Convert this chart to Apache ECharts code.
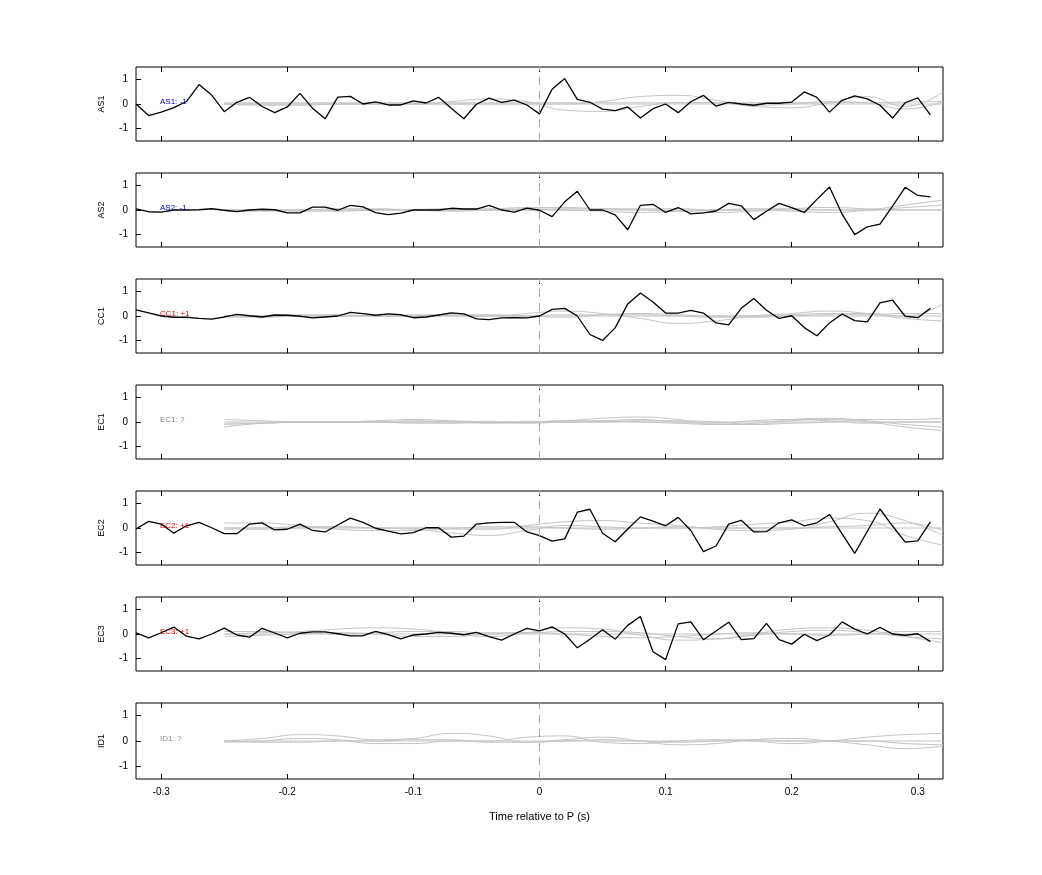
<!DOCTYPE html>
<html><head><meta charset="utf-8">
<script src="https://cdn.jsdelivr.net/npm/echarts@6/dist/echarts.min.js"></script>
<style>html,body{margin:0;background:#fff}#c{width:1042px;height:875px}</style>
</head><body><div id="c"></div>
<script>
const stations = ['AS1','AS2','CC1','EC1','EC2','EC3','ID1'];
const polarityLabels = ['AS1: -1','AS2: -1','CC1: +1','EC1: ?','EC2: +1','EC3: +1','ID1: ?'];
const labelColors = ['#0000cc','#0000cc','#dd0000','#888888','#dd0000','#dd0000','#888888'];
const xTicks = [-0.3,-0.2,-0.1,0,0.1,0.2,0.3];
// black trace times: -0.32 .. 0.31 step 0.01
const blackTimes = [-0.32,-0.31,-0.30,-0.29,-0.28,-0.27,-0.26,-0.25,-0.24,-0.23,-0.22,-0.21,-0.20,-0.19,-0.18,-0.17,-0.16,-0.15,-0.14,-0.13,-0.12,-0.11,-0.10,-0.09,-0.08,-0.07,-0.06,-0.05,-0.04,-0.03,-0.02,-0.01,0,0.01,0.02,0.03,0.04,0.05,0.06,0.07,0.08,0.09,0.10,0.11,0.12,0.13,0.14,0.15,0.16,0.17,0.18,0.19,0.20,0.21,0.22,0.23,0.24,0.25,0.26,0.27,0.28,0.29,0.30,0.31];
const AS1 = [0,-0.47,-0.33,-0.15,0.1,0.79,0.36,-0.31,0.07,0.27,-0.1,-0.35,-0.12,0.43,-0.17,-0.6,0.28,0.31,0,0.09,-0.04,-0.04,0.13,0.04,0.27,-0.17,-0.6,-0.01,0.24,0.07,0.16,-0.04,-0.4,0.6,1.03,0.19,0.07,-0.21,-0.27,-0.12,-0.57,-0.19,0,-0.35,0.09,0.35,-0.09,0.07,0,-0.05,0.03,0.03,0.08,0.49,0.27,-0.33,0.15,0.33,0.21,-0.05,-0.57,0.05,0.25,-0.44];
const AS2 = [0.05,-0.07,-0.09,0,0,0.01,0.05,-0.01,-0.07,0,0.03,0.01,-0.12,-0.12,0.12,0.12,-0.01,0.19,0.13,-0.11,-0.19,-0.13,0,0,0,0.07,0.04,0.04,0.19,0,-0.09,0.08,-0.01,-0.27,0.33,0.76,0,0,-0.2,-0.8,0.19,0.23,-0.1,0.1,-0.16,-0.12,-0.04,0.27,0.17,-0.39,-0.05,0.27,0.1,-0.1,0.43,0.93,-0.17,-1.0,-0.68,-0.57,0.16,0.92,0.59,0.53];
const CC1 = [0.25,0.13,0,-0.05,-0.05,-0.1,-0.13,-0.04,0.07,0.01,-0.04,0.04,0.03,-0.01,-0.08,-0.04,0,0.15,0.1,0.03,0.09,0.05,-0.07,-0.04,0.04,0.13,0.09,-0.12,-0.15,-0.08,-0.07,-0.08,0,0.27,0.31,0,-0.75,-0.99,-0.48,0.49,0.93,0.57,0.12,0.12,0.23,0.12,-0.28,-0.36,0.31,0.71,0.23,-0.1,0.01,-0.47,-0.8,-0.28,0.08,-0.19,-0.24,0.53,0.64,-0.01,-0.07,0.31];
const EC2 = [-0.04,0.27,0.16,-0.21,0.09,0.23,0.01,-0.23,-0.23,0.16,0.21,-0.08,-0.05,0.16,-0.1,-0.16,0.12,0.4,0.23,-0.01,-0.13,-0.24,-0.19,0.01,0.01,-0.37,-0.33,0.16,0.21,0.23,0.23,-0.16,-0.31,-0.53,-0.44,0.64,0.76,-0.21,-0.56,-0.04,0.45,0.28,0.09,0.43,-0.1,-0.96,-0.73,0.16,0.31,-0.16,-0.15,0.21,0.33,0.09,0.21,0.55,-0.24,-1.03,-0.13,0.77,0.08,-0.57,-0.52,0.25];
const EC3 = [0.05,-0.16,0.05,0.28,-0.09,-0.2,0,0.24,-0.04,-0.13,0.23,0.04,-0.16,0.03,0.09,0.09,0.01,-0.08,-0.07,0.11,-0.03,-0.2,-0.04,0,0.07,0.03,-0.03,0.07,-0.11,-0.25,0,0.23,0.13,0.29,0,-0.56,-0.21,0.17,-0.21,0.35,0.71,-0.72,-1.04,0.41,0.49,-0.23,0.12,0.48,-0.23,-0.19,0.43,-0.23,-0.41,-0.01,-0.27,-0.04,0.49,0.2,0,0.27,0,-0.05,0.01,-0.31];
const blackSeries = [AS1, AS2, CC1, null, EC2, EC3, null];
// gray traces: times -0.25 .. 0.32 step 0.03
const grayTimes = [-0.25,-0.22,-0.19,-0.16,-0.13,-0.10,-0.07,-0.04,-0.01,0.02,0.05,0.08,0.11,0.14,0.17,0.20,0.23,0.26,0.29,0.32];
const grays = [
 [[0.05,0.05,0.05,0.05,0.05,0.05,0.05,0.05,0.05,0.05,0.05,0.05,0.05,0.05,0.05,0.05,0.05,0.05,0.08,0.1],
  [0,-0.05,-0.05,0,0,0,0.1,0.2,0.1,-0.25,-0.3,-0.1,0.05,0.05,-0.05,0,0.1,0.05,-0.2,0.1],
  [0,0,0,0,0,0,0,0,0,0,0.1,0.3,0.35,0.15,-0.1,-0.15,0.05,0.3,-0.1,0.5],
  [0,0,0,0,0,0,0,0,0,0,0,0,0,0,0,0,0,0,0,0]],
 [[-0.05,-0.05,0,0,0,0.02,0.05,0.05,0.1,0.1,0.05,0,-0.05,-0.1,-0.05,0.05,0.1,0.05,0,0],
  [0,0,-0.05,-0.05,0,0,0,0,0,0.05,0.05,0.05,0.05,0,0,-0.05,-0.1,0,0.2,0.4],
  [0,0,0,0.05,0.05,0,-0.05,0,0.05,0,-0.05,-0.1,-0.05,0,0.05,0.05,0,0,0.1,0.2],
  [0,0,0,0,0,0,0,0,0,0,0,0,0,0,0,0,0,0,0,0]],
 [[0,0,0,0,0,0,0,0,0.1,0.2,0.1,-0.1,-0.3,-0.2,0,0.1,0.2,0.1,-0.1,-0.2],
  [0,0,0.05,0.05,0,0,0.05,0.05,0,-0.05,0.05,0.1,0.05,0,0,0.05,0.1,0.1,0,0.5],
  [-0.05,-0.05,0,0,0,0.05,0.05,0,0,0.05,0.05,0.05,0,-0.05,-0.05,0,0.05,0.05,0.1,0.1],
  [0,0,0,0,0,0,0,0,0,0,0,0,0,0,0,0,0,0,0,0]],
 [[-0.2,-0.05,0,0,0,0.05,0,-0.05,0,0.05,0.15,0.2,0.1,-0.1,-0.1,0.05,0.1,0,-0.2,-0.35],
  [0.1,0.05,0,0,0.05,0.1,0.05,0,-0.05,0,0.05,0.1,0,-0.05,0.05,0.1,0.05,-0.05,0,0],
  [-0.05,-0.05,0,0,0,0,0,0,0,0,0,0.05,0.05,0,-0.1,-0.05,0,0.1,0.1,0.15],
  [-0.1,-0.05,0,0,0,-0.05,-0.05,0,0,0.05,0.05,0,-0.05,-0.1,-0.05,0.1,0.15,0.05,-0.1,-0.2],
  [0,0,0,0,0,0,0,0,0,0,0,0,0,0,0,0,0,0,0,0]],
 [[0.2,0.2,0.1,-0.05,-0.1,-0.1,-0.05,-0.05,0.1,0.25,0.3,0.2,0.1,-0.05,-0.1,-0.05,0.25,0.6,0.3,-0.3],
  [-0.05,-0.05,0,0.05,0,-0.05,-0.2,-0.3,-0.1,0.1,0.05,0,0,0.05,0.15,0.25,0.4,0.3,-0.3,-0.7],
  [0,0,0.05,0.05,0,0,0,0.05,0.05,0,-0.05,0,0.05,0,0,0,0.05,0.1,0.2,-0.1],
  [0,0,0,0,0,0,0,0,0,0,0,0,0,0,0,0,0,0,0,0]],
 [[0.1,0.1,0.05,0,0.05,0.1,0.1,0.05,0.05,0.1,0.1,0.05,-0.1,-0.2,-0.05,0.1,0.15,0.05,-0.1,-0.2],
  [0,0.05,0.1,0.2,0.25,0.2,0.05,-0.1,0.05,0.25,0.2,-0.05,-0.25,-0.2,0,0.2,0.25,0.15,-0.1,-0.35],
  [-0.1,-0.05,0,0.05,0,-0.1,-0.1,0,0.05,0,-0.1,-0.15,-0.1,0,0.05,0,-0.05,0,0.1,0.1],
  [0,0,0,0,0,0,0,0,0,0,0,0,0,0,0,0,0,0,0,0]],
 [[0,0.1,0.25,0.2,0.05,0.1,0.3,0.2,-0.05,0.05,0.15,0,-0.15,-0.1,0.05,0.1,0,-0.15,-0.3,-0.2],
  [-0.05,0,0.1,0.05,-0.1,-0.1,0,0,0.15,0.2,-0.05,-0.1,0,0.05,0,-0.1,0,0.15,0.25,0.3],
  [0,-0.05,-0.05,0,0,0.05,0.05,-0.05,-0.05,0,0.05,0,-0.05,0,0.05,0,0,0,-0.1,-0.15],
  [0,0,0,0,0,0,0,0,0,0,0,0,0,0,0,0,0,0,0,0]]
];

const chart = echarts.init(document.getElementById('c'));
const grid=[], xAxis=[], yAxis=[], series=[], graphic=[];
const font = 'Liberation Sans, Arial, sans-serif';
stations.forEach((st,i)=>{
  const top = 67 + 106*i;
  const h = i===6 ? 76 : 74;
  grid.push({left:136, width:807, top:top, height:h, show:true, borderColor:'#000', borderWidth:1, backgroundColor:'#fff'});
  const last = i===6;
  const xBase = {gridIndex:i, type:'value', min:-0.32, max:0.32,
    axisLine:{show:false, onZero:false}, splitLine:{show:false},
    axisTick:{inside:true, length:5, lineStyle:{color:'#000'}, customValues:xTicks}};
  xAxis.push(Object.assign({}, xBase, {position:'bottom',
    axisLabel:{show:last, customValues:xTicks, color:'#000', fontSize:10, fontFamily:font, margin:8, formatter:v=>String(+v.toFixed(1))},
    name: last ? 'Time relative to P (s)' : '', nameLocation:'middle', nameGap:32,
    nameTextStyle:{color:'#000', fontSize:11, fontFamily:font}}));
  xAxis.push(Object.assign({}, xBase, {position:'top', axisLabel:{show:false}}));
  yAxis.push({gridIndex:i, type:'value', min:-1.5, max:1.5, position:'left',
    axisLine:{show:false, onZero:false}, splitLine:{show:false},
    axisTick:{inside:true, length:5, lineStyle:{color:'#000'}, customValues:[-1,0,1]},
    axisLabel:{customValues:[-1,0,1], color:'#000', fontSize:10, fontFamily:font, margin:8},
    name:st, nameLocation:'middle', nameGap:30, nameRotate:90,
    nameTextStyle:{color:'#000', fontSize:9, fontFamily:font}});
  grays[i].forEach((g,k)=>{
    series.push({type:'line', xAxisIndex:2*i, yAxisIndex:i, smooth:0.5, symbol:'none', silent:true,
      lineStyle:{color:'#c4c4c4', width:1}, data:grayTimes.map((t,j)=>[t,g[j]]),
      markLine: k===0 ? {silent:true, symbol:'none', label:{show:false},
        lineStyle:{color:'#cc9999', type:[8,6], width:1}, data:[{xAxis:0}]} : undefined});
  });
  if (blackSeries[i]) {
    series.push({type:'line', xAxisIndex:2*i, yAxisIndex:i, symbol:'none', silent:true,
      lineStyle:{color:'#000', width:1.3}, data:blackTimes.map((t,j)=>[t,blackSeries[i][j]])});
  }
  graphic.push({type:'text', left:160, top: top + h/2 - 6,
    style:{text:polarityLabels[i], fill:labelColors[i], font:'8px '+font}});
});
chart.setOption({animation:false, backgroundColor:'#fff', grid, xAxis, yAxis, series, graphic});
</script></body></html>
